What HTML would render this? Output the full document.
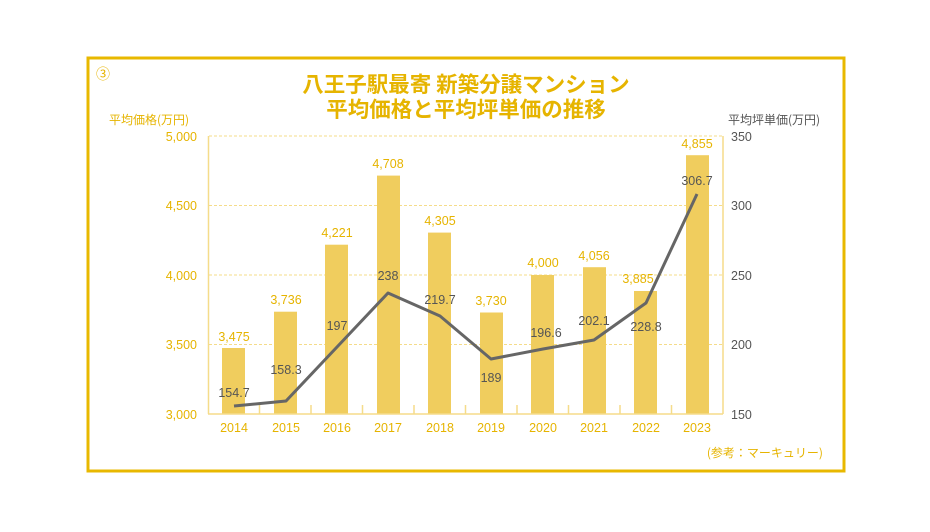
<!DOCTYPE html>
<html><head><meta charset="utf-8"><style>
html,body{margin:0;padding:0;background:#fff;}
svg{display:block;font-family:"Liberation Sans","Noto Sans CJK JP",sans-serif;}
</style></head><body>
<svg width="930" height="532" viewBox="0 0 930 532" xmlns="http://www.w3.org/2000/svg">
<rect x="88" y="58" width="756" height="413" fill="none" stroke="#e8b800" stroke-width="3"/>
<text x="96" y="79" font-size="14" fill="#e6b400">③</text>
<g font-size="21.5" font-weight="bold" fill="#e6b400" text-anchor="middle" font-family="Noto Sans CJK JP, sans-serif">
<text x="466" y="92">八王子駅最寄 新築分譲マンション</text>
<text x="466" y="117">平均価格と平均坪単価の推移</text>
</g>
<text x="109" y="124" font-size="12" fill="#e6b400" font-family="Noto Sans CJK JP, sans-serif">平均価格(万円)</text>
<text x="728" y="124" font-size="12" fill="#555" font-family="Noto Sans CJK JP, sans-serif">平均坪単価(万円)</text>
<g stroke="#f5dc8a" stroke-width="1" stroke-dasharray="3,2">
<line x1="209" y1="136" x2="723" y2="136"/>
<line x1="209" y1="205.5" x2="723" y2="205.5"/>
<line x1="209" y1="275" x2="723" y2="275"/>
<line x1="209" y1="344.5" x2="723" y2="344.5"/>
</g>
<g fill="#f0cd5e">
<rect x="222" y="348.0" width="23" height="66"/>
<rect x="274" y="311.7" width="23" height="102.3"/>
<rect x="325" y="244.7" width="23" height="169.3"/>
<rect x="377" y="175.6" width="23" height="238.4"/>
<rect x="428" y="232.6" width="23" height="181.4"/>
<rect x="480" y="312.5" width="23" height="101.5"/>
<rect x="531" y="275" width="23" height="139"/>
<rect x="583" y="267.2" width="23" height="146.8"/>
<rect x="634" y="291.0" width="23" height="123"/>
<rect x="686" y="155.2" width="23" height="258.8"/>
</g>
<g stroke="#f5dc8a" stroke-width="1.5" fill="none">
<line x1="208.5" y1="136" x2="208.5" y2="414"/>
<line x1="723" y1="136" x2="723" y2="414"/>
<line x1="208" y1="414" x2="723" y2="414"/>
<path d="M259.5 414v-9M311 414v-9M362.5 414v-9M414 414v-9M465.5 414v-9M517 414v-9M568.5 414v-9M620 414v-9M671.5 414v-9"/>
</g>
<polyline points="234,406 286,401 337,347 388,293 440,316 491,359 543,349 594,340 646,303 697,194" fill="none" stroke="#666" stroke-width="3" stroke-linejoin="round"/>
<g font-size="12.5" fill="#e6b400" text-anchor="end">
<text x="197" y="141">5,000</text>
<text x="197" y="210">4,500</text>
<text x="197" y="280">4,000</text>
<text x="197" y="349">3,500</text>
<text x="197" y="419">3,000</text>
</g>
<g font-size="12.5" fill="#555">
<text x="731" y="141">350</text>
<text x="731" y="210">300</text>
<text x="731" y="280">250</text>
<text x="731" y="349">200</text>
<text x="731" y="419">150</text>
</g>
<g font-size="12.5" fill="#e6b400" text-anchor="middle">
<text x="234" y="432">2014</text><text x="286" y="432">2015</text><text x="337" y="432">2016</text><text x="388" y="432">2017</text><text x="440" y="432">2018</text><text x="491" y="432">2019</text><text x="543" y="432">2020</text><text x="594" y="432">2021</text><text x="646" y="432">2022</text><text x="697" y="432">2023</text>
<text x="234" y="341">3,475</text><text x="286" y="304">3,736</text><text x="337" y="237">4,221</text><text x="388" y="168">4,708</text><text x="440" y="225">4,305</text><text x="491" y="305">3,730</text><text x="543" y="267">4,000</text><text x="594" y="260">4,056</text><text x="638" y="283">3,885</text><text x="697" y="148">4,855</text>
</g>
<g font-size="12.5" fill="#555" text-anchor="middle">
<text x="234" y="397">154.7</text><text x="286" y="374">158.3</text><text x="337" y="330">197</text><text x="388" y="280">238</text><text x="440" y="304">219.7</text><text x="491" y="382">189</text><text x="546" y="337">196.6</text><text x="594" y="325">202.1</text><text x="646" y="331">228.8</text><text x="697" y="185">306.7</text>
</g>
<text x="823" y="457" font-size="12" fill="#e6b400" text-anchor="end" font-family="Noto Sans CJK JP, sans-serif">(参考：マーキュリー)</text>
</svg>
</body></html>
